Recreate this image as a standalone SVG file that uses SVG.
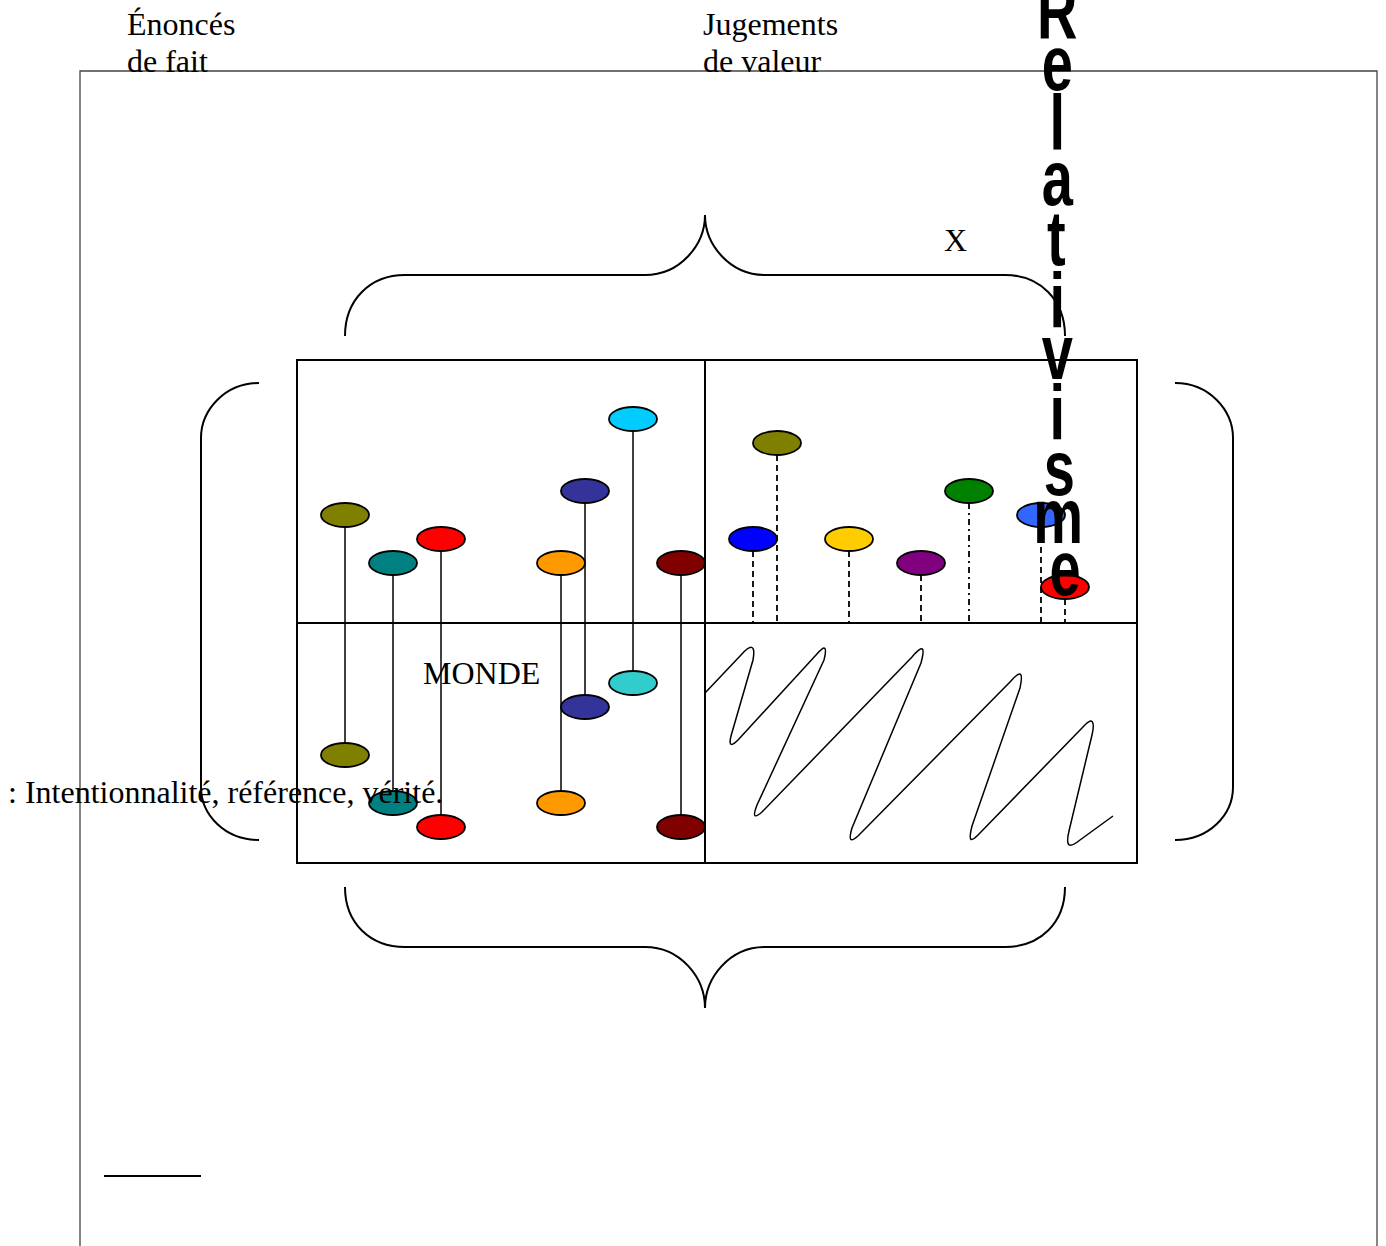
<svg xmlns="http://www.w3.org/2000/svg" width="1386" height="1246" viewBox="0 0 1386 1246">
<style>
.ser{font-family:"Liberation Serif","Times New Roman",serif;font-size:32px;fill:#000}
.rel{font-family:"Liberation Sans",Arial,sans-serif;font-weight:bold;font-size:56px;fill:#000;text-anchor:middle}
.ln{stroke:#000;stroke-width:1.5;fill:none}
.br{stroke:#000;stroke-width:2;fill:none}
.dash{stroke:#000;stroke-width:1.8;stroke-dasharray:6,4;fill:none}
.dashdot{stroke:#000;stroke-width:1.8;stroke-dasharray:6,4,2,4;fill:none}
.el{stroke:#000;stroke-width:1.8}
</style>
<rect width="1386" height="1246" fill="#fff"/>
<g id="frame">
<path d="M80,1246 L80,71 L1377,71 L1377,1246" fill="none" stroke="#444" stroke-width="1.3"/>
<line x1="104" y1="1176" x2="201" y2="1176" stroke="#000" stroke-width="2"/>
</g>
<g id="braces">
<path class="br" d="M345,336 C345,300 370,275 405,275 L645,275 C680,275 705,245 705,215 C705,245 730,275 765,275 L1005,275 C1040,275 1065,300 1065,336"/>
<path class="br" d="M345,887 C345,923 370,947 405,947 L645,947 C680,947 705,977 705,1008 C705,977 730,947 765,947 L1005,947 C1040,947 1065,923 1065,887"/>
<path class="br" d="M259,383 C225,383 201,410 201,438 L201,787 C201,815 225,840 259,840"/>
<path class="br" d="M1175,383 C1209,383 1233,410 1233,438 L1233,787 C1233,815 1209,840 1175,840"/>
</g>
<g id="monde-box">
<rect x="297" y="360" width="840" height="503" fill="none" stroke="#000" stroke-width="2"/>
<line x1="705" y1="360" x2="705" y2="863" stroke="#000" stroke-width="2"/>
<line x1="297" y1="623" x2="1137" y2="623" stroke="#000" stroke-width="2"/>
</g>
<g id="connectors">
<line class="ln" x1="345" y1="515" x2="345" y2="755"/>
<line class="ln" x1="393" y1="563" x2="393" y2="803"/>
<line class="ln" x1="441" y1="539" x2="441" y2="827"/>
<line class="ln" x1="561" y1="563" x2="561" y2="803"/>
<line class="ln" x1="585" y1="491" x2="585" y2="707"/>
<line class="ln" x1="633" y1="419" x2="633" y2="683"/>
<line class="ln" x1="681" y1="563" x2="681" y2="827"/>
<line class="dash" x1="777" y1="455" x2="777" y2="623"/>
<line class="dash" x1="753" y1="551" x2="753" y2="623"/>
<line class="dash" x1="849" y1="551" x2="849" y2="623"/>
<line class="dash" x1="921" y1="575" x2="921" y2="623"/>
<line class="dashdot" x1="969" y1="503" x2="969" y2="623"/>
<line class="dash" x1="1041" y1="527" x2="1041" y2="623"/>
<line class="dash" x1="1065" y1="599" x2="1065" y2="623"/>
</g>
<g id="faits-haut">
<ellipse class="el" cx="345" cy="515" rx="24" ry="12" fill="#808000"/>
<ellipse class="el" cx="393" cy="563" rx="24" ry="12" fill="#008080"/>
<ellipse class="el" cx="441" cy="539" rx="24" ry="12" fill="#FF0000"/>
<ellipse class="el" cx="561" cy="563" rx="24" ry="12" fill="#FF9900"/>
<ellipse class="el" cx="585" cy="491" rx="24" ry="12" fill="#333399"/>
<ellipse class="el" cx="633" cy="419" rx="24" ry="12" fill="#00CCFF"/>
<ellipse class="el" cx="681" cy="563" rx="24" ry="12" fill="#800000"/>
</g>
<g id="faits-bas">
<ellipse class="el" cx="345" cy="755" rx="24" ry="12" fill="#808000"/>
<ellipse class="el" cx="393" cy="803" rx="24" ry="12" fill="#008080"/>
<ellipse class="el" cx="441" cy="827" rx="24" ry="12" fill="#FF0000"/>
<ellipse class="el" cx="561" cy="803" rx="24" ry="12" fill="#FF9900"/>
<ellipse class="el" cx="585" cy="707" rx="24" ry="12" fill="#333399"/>
<ellipse class="el" cx="633" cy="683" rx="24" ry="12" fill="#33CCCC"/>
<ellipse class="el" cx="681" cy="827" rx="24" ry="12" fill="#800000"/>
</g>
<g id="valeurs">
<ellipse class="el" cx="777" cy="443" rx="24" ry="12" fill="#808000"/>
<ellipse class="el" cx="753" cy="539" rx="24" ry="12" fill="#0000FF"/>
<ellipse class="el" cx="849" cy="539" rx="24" ry="12" fill="#FFCC00"/>
<ellipse class="el" cx="921" cy="563" rx="24" ry="12" fill="#800080"/>
<ellipse class="el" cx="969" cy="491" rx="24" ry="12" fill="#008000"/>
<ellipse class="el" cx="1041" cy="515" rx="24" ry="12" fill="#3366FF"/>
<ellipse class="el" cx="1065" cy="587" rx="24" ry="12" fill="#FF0000"/>
</g>
<g id="zigzag">
<path class="ln" d="M705,693 L741,655 C750,645 756,643 753,660 L731,736 C728,748 733,745 738,740 L816,655 C826,643 827,648 824,660 L757,805 C752,818 755,818 762,812 L912,657 C924,643 925,648 921,663 L852,828 C848,842 851,842 858,836 L1010,682 C1022,668 1023,674 1020,688 L972,826 C968,842 971,842 978,835 L1082,728 C1093,715 1095,722 1092,735 L1069,831 C1065,848 1070,848 1080,840 L1113,816"/>
</g>
<g id="labels">
<text class="ser" x="127" y="35">Énoncés</text>
<text class="ser" x="127" y="72">de fait</text>
<text class="ser" x="703" y="35">Jugements</text>
<text class="ser" x="703" y="72">de valeur</text>
<text class="ser" x="944" y="251">X</text>
<text class="ser" x="423" y="684">MONDE</text>
<text class="ser" x="8" y="803">: Intentionnalité, référence, vérité.</text>
</g>
<g id="relativisme">
<text class="rel" transform="scale(1,1.4)">
<tspan x="1065" y="27.1">R</tspan>
<tspan x="1065" y="64.3">e</tspan>
<tspan x="1065" y="107.1">l</tspan>
<tspan x="1065" y="146.4">a</tspan>
<tspan x="1064" y="189.3">t</tspan>
<tspan x="1065" y="234.3">i</tspan>
<tspan x="1065" y="270.7">v</tspan>
<tspan x="1065" y="314.3">i</tspan>
<tspan x="1067" y="353.6">s</tspan>
<tspan x="1066" y="387.9">m</tspan>
<tspan x="1065" y="425">e</tspan>
</text>
</g>
</svg>
